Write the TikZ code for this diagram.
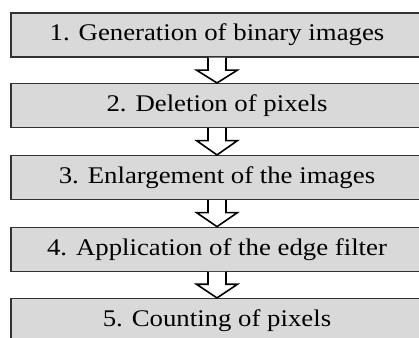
\documentclass[tikz,border=0pt]{standalone}
\usepackage{fontspec}
\setmainfont[FakeStretch=1.12]{Liberation Serif}
\usetikzlibrary{calc}
\definecolor{boxgray}{RGB}{217,217,217}
\definecolor{boxline}{RGB}{50,50,50}
\tikzset{
  stepbox/.style={draw=boxline, line width=1.1bp, fill=boxgray, minimum width=412bp,
    minimum height=44bp, inner sep=0pt, font=\fontsize{24}{28}\selectfont},
  hollowarrow/.style={draw=black, fill=white, line width=1.6bp, line join=miter}
}
\begin{document}
\begin{tikzpicture}[x=1bp,y=-1bp]
\useasboundingbox (0,0) rectangle (419,338);
\node[stepbox] (b1) at (217,35) {1. Generation of binary images};
\node[stepbox] (b2) at (217,105.5) {2. Deletion of pixels};
\node[stepbox] (b3) at (217,177.5) {3. Enlargement of the images};
\node[stepbox] (b4) at (217,249.2) {4. Application of the edge filter};
\node[stepbox] (b5) at (217,320.5) {5. Counting of pixels};
\foreach \a/\b in {b1/b2,b2/b3,b3/b4,b4/b5}{
  \draw[hollowarrow] ($(\a.south)+(-9,0)$) -- ($(\a.south)+(-9,12.5)$)
    -- ($(\a.south)+(-20.5,12.5)$) -- (\b.north)
    -- ($(\a.south)+(20.5,12.5)$) -- ($(\a.south)+(9,12.5)$)
    -- ($(\a.south)+(9,0)$);
}
\end{tikzpicture}
\end{document}
